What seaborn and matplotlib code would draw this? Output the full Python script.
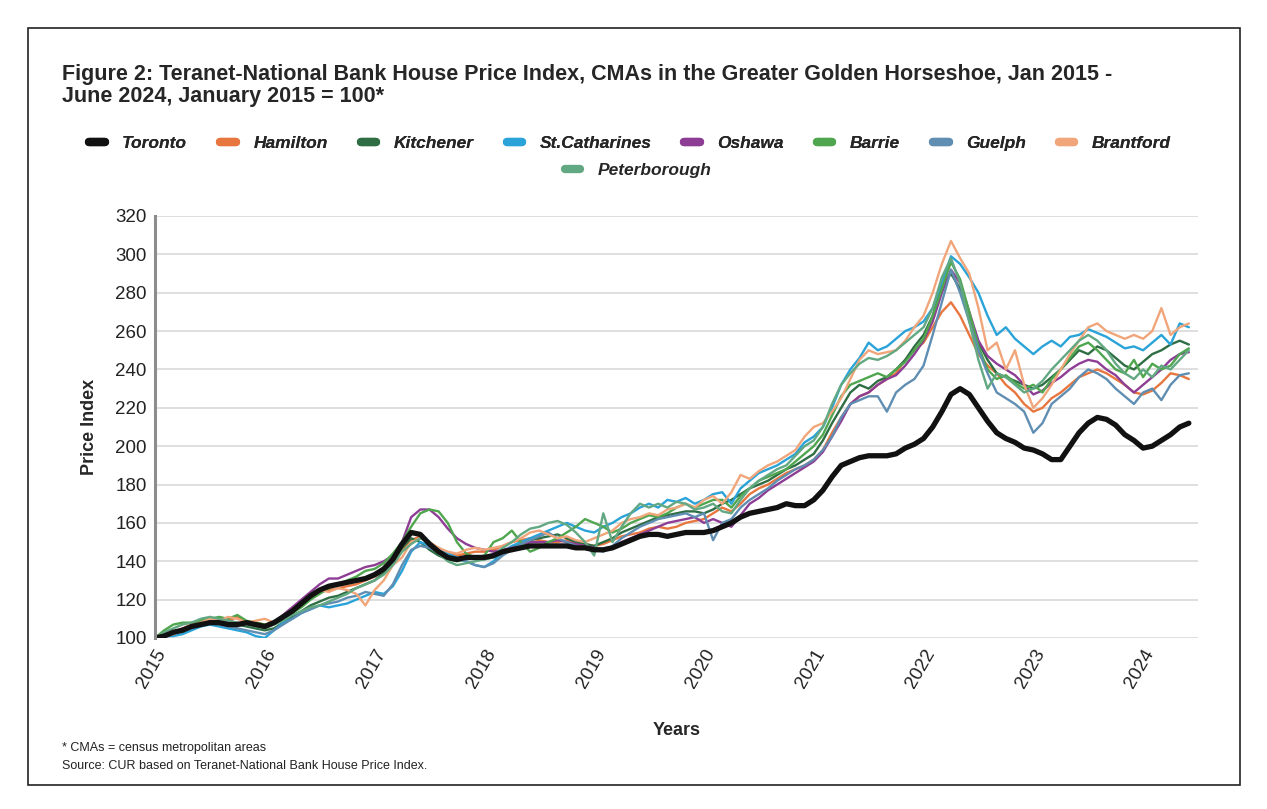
import numpy as np
import pandas as pd
import seaborn as sns
import matplotlib.pyplot as plt
from matplotlib.lines import Line2D
from matplotlib.patches import Rectangle

years = ["2015", "2016", "2017", "2018", "2019", "2020", "2021", "2022", "2023", "2024"]

toronto = [
    100, 101, 103, 104, 106, 107, 108, 108, 107, 107, 108, 107,
    106, 108, 111, 114, 118, 122, 125, 127, 128, 129, 130, 131,
    133, 136, 141, 149, 155, 154, 149, 145, 142, 141, 142, 142,
    142, 143, 145, 146, 147, 148, 148, 148, 148, 148, 147, 147,
    146, 146, 147, 149, 151, 153, 154, 154, 153, 154, 155, 155,
    155, 156, 158, 160, 163, 165, 166, 167, 168, 170, 169, 169,
    172, 177, 184, 190, 192, 194, 195, 195, 195, 196, 199, 201,
    204, 210, 218, 227, 230, 227, 220, 213, 207, 204, 202, 199,
    198, 196, 193, 193, 200, 207, 212, 215, 214, 211, 206, 203,
    199, 200, 203, 206, 210, 212,
]
hamilton = [
    100, 102, 103, 105, 107, 109, 110, 108, 109, 111, 108, 108,
    107, 108, 110, 114, 118, 121, 124, 125, 126, 127, 128, 130,
    132, 135, 140, 146, 151, 153, 150, 146, 144, 143, 144, 145,
    145, 146, 148, 150, 151, 152, 151, 150, 150, 151, 150, 149,
    148, 149, 151, 153, 154, 155, 157, 158, 157, 158, 160, 161,
    162, 165, 168, 166, 170, 175, 178, 180, 183, 186, 188, 190,
    193, 198, 207, 215, 222, 226, 228, 232, 235, 238, 245, 250,
    254, 262, 270, 275, 268, 258, 248, 242, 238, 232, 228, 222,
    218, 220, 225, 228, 232, 236, 238, 240, 238, 235, 232, 228,
    227, 229, 233, 238, 237, 235,
]
kitchener = [
    100, 101, 102, 104, 106, 107, 109, 110, 108, 107, 106, 105,
    104, 105, 108, 111, 114, 117, 119, 121, 122, 124, 126, 128,
    130, 134, 140, 147, 152, 150, 146, 143, 141, 140, 141, 142,
    141, 142, 144, 147, 149, 151, 152, 153, 154, 152, 150, 149,
    148, 150, 152, 155, 157, 159, 161, 163, 164, 165, 166, 166,
    165, 167, 170, 172, 175, 178, 180, 182, 185, 188, 190, 193,
    196, 203, 212, 220, 228, 232, 230, 234, 236, 240, 245, 252,
    258, 268, 283, 290, 282, 268, 254, 245, 238, 236, 234, 232,
    230, 232, 236, 240, 245, 250, 248, 252, 250, 246, 242, 240,
    244, 248, 250, 253, 255, 253,
]
st_catharines = [
    100, 101, 101, 102, 104, 106, 107, 106, 105, 104, 103, 101,
    100, 104, 108, 110, 113, 115, 117, 116, 117, 118, 120, 122,
    124, 123, 127, 135, 145, 150, 148, 147, 144, 142, 140, 138,
    137, 140, 145, 148, 150, 152, 154, 156, 158, 160, 158, 156,
    155, 158, 160, 163, 165, 168, 170, 168, 172, 171, 173, 170,
    172, 175, 176, 170, 178, 182, 186, 188, 190, 193, 196, 202,
    205, 210, 220, 232, 240, 246, 254, 250, 252, 256, 260, 262,
    265, 272, 285, 299, 295, 288, 280, 268, 258, 262, 256, 252,
    248, 252, 255, 252, 257, 258, 261, 259, 257, 254, 251, 252,
    250, 254, 258, 253, 264, 262,
]
oshawa = [
    100, 102, 103, 105, 106, 108, 109, 110, 109, 108, 107, 107,
    106, 108, 112, 116, 120, 124, 128, 131, 131, 133, 135, 137,
    138, 140, 143, 150, 163, 167, 167, 163, 157, 152, 149, 147,
    146, 145, 146, 147, 148, 150, 150, 150, 151, 150, 149, 148,
    147, 146, 147, 150, 152, 154, 156, 158, 160, 161, 162, 163,
    160, 162, 160, 158, 164, 170, 173, 177, 180, 183, 186, 189,
    192, 197, 205, 213, 222, 226, 228, 232, 235, 237, 242, 248,
    255, 265, 280, 292, 285, 270, 255, 247, 243, 240, 237, 232,
    227, 229, 233, 236, 240, 243, 245, 244, 240, 237, 232, 228,
    232, 236, 240, 245, 248, 249,
]
barrie = [
    100, 104, 107, 108, 108, 109, 110, 111, 110, 112, 109, 108,
    107, 108, 110, 113, 116, 120, 123, 126, 128, 130, 132, 135,
    136, 139, 144, 150, 158, 165, 167, 166, 160, 150, 144, 142,
    143, 150, 152, 156, 150, 145, 147, 150, 152, 155, 158, 162,
    160, 158, 155, 157, 160, 162, 164, 163, 165, 168, 170, 168,
    170, 172, 172, 168, 174, 178, 182, 184, 186, 188, 192, 196,
    200, 206, 216, 226, 232, 234, 236, 238, 236, 240, 244, 250,
    256, 268, 282, 296, 287, 270, 252, 240, 235, 237, 233, 230,
    232, 228, 235, 240, 246, 252, 254, 250, 245, 240, 238, 245,
    236, 243, 240, 242, 248, 251,
]
guelph = [
    100, 102, 103, 104, 106, 107, 108, 107, 106, 105, 104, 103,
    102, 104, 107, 110, 113, 115, 117, 118, 119, 121, 122, 124,
    123, 122, 128, 138, 146, 148, 147, 145, 143, 141, 140, 138,
    137, 139, 143, 146, 149, 151, 153, 155, 152, 150, 148, 147,
    146, 145, 148, 152, 155, 158, 160, 162, 163, 164, 165, 163,
    165, 151, 160, 162, 168, 172, 175, 178, 182, 185, 188, 190,
    193, 198, 205, 215, 222, 224, 226, 226, 218, 228, 232, 235,
    242, 258, 275, 292, 280, 265, 250, 238, 228, 225, 222, 218,
    207, 212, 222, 226, 230, 236, 240, 238, 235, 230, 226, 222,
    228, 230, 224, 232, 237, 238,
]
brantford = [
    100, 101, 102, 104, 106, 108, 110, 109, 111, 110, 108, 109,
    110, 108, 110, 114, 118, 122, 125, 124, 126, 125, 123, 117,
    125, 130, 138, 142, 150, 152, 150, 147, 145, 144, 146, 147,
    146, 147, 148, 150, 152, 155, 156, 154, 152, 153, 151, 150,
    152, 154, 156, 160, 162, 163, 165, 164, 167, 168, 170, 168,
    172, 174, 170, 176, 185, 183, 187, 190, 192, 195, 198, 205,
    210, 212, 218, 225, 235, 245, 250, 248, 249, 250, 255, 262,
    268, 280, 295, 307, 298, 290, 272, 250, 254, 240, 250, 232,
    220, 225, 232, 240, 248, 255, 262, 264, 260, 258, 256, 258,
    256, 260, 272, 258, 262, 264,
]
peterborough = [
    100, 103, 105, 107, 108, 110, 111, 110, 109, 108, 107, 106,
    105, 107, 109, 112, 114, 116, 117, 119, 121, 123, 126, 128,
    130, 133, 138, 145, 149, 152, 150, 144, 140, 138, 139, 140,
    141, 143, 147, 150, 154, 157, 158, 160, 161, 159, 155, 150,
    143, 165, 150, 158, 165, 170, 168, 170, 168, 171, 170, 167,
    168, 170, 166, 165, 172, 178, 182, 185, 188, 190, 195, 200,
    203, 210, 222, 232, 238, 243, 246, 245, 247, 250, 254, 258,
    262, 272, 288, 298, 285, 265, 245, 230, 238, 236, 232, 228,
    230, 234, 240, 245, 250, 255, 258, 255, 250, 243, 238, 235,
    240, 236, 242, 240, 245, 250,
]

cities = ["Toronto", "Hamilton", "Kitchener", "St.Catharines", "Oshawa",
          "Barrie", "Guelph", "Brantford", "Peterborough"]
series = [toronto, hamilton, kitchener, st_catharines, oshawa,
          barrie, guelph, brantford, peterborough]
colors = ["#111111", "#E8773F", "#2F6E44", "#2AA3D8", "#8E3D95",
          "#4FA64F", "#5F8EB2", "#F1A57A", "#62A882"]
palette = dict(zip(cities, colors))

rows = []
for city, vals in zip(cities, series):
    for i, v in enumerate(vals):
        rows.append({"month": i, "city": city, "index": v})
df = pd.DataFrame(rows)

sns.set_style("white")
plt.rcParams["font.family"] = ["Liberation Sans", "DejaVu Sans"]

fig = plt.figure(figsize=(12.67, 8.09), dpi=100)
ax = fig.add_axes([155 / 1267, 1 - 638 / 809, (1198 - 155) / 1267, (638 - 216) / 809])

others = df[df["city"] != "Toronto"]
sns.lineplot(data=others, x="month", y="index", hue="city", palette=palette,
             linewidth=1.7, legend=False, ax=ax)
sns.lineplot(data=df[df["city"] == "Toronto"], x="month", y="index", hue="city",
             palette=palette, linewidth=3.8, legend=False, ax=ax)

ax.set_ylim(100, 320)
ax.set_xlim(0, 114)
ax.set_yticks(range(100, 321, 20))
ax.set_xticks(range(0, 120, 12))
ax.set_xticklabels(years, rotation=60, ha="right", rotation_mode="anchor")
ax.tick_params(axis="both", labelsize=13.5, colors="#222222", length=0, pad=6)
ax.yaxis.grid(True, color="#d9d9d9", linewidth=1.2)
ax.set_axisbelow(True)
for side in ["top", "right", "bottom"]:
    ax.spines[side].set_visible(False)
ax.spines["left"].set_color("#8c8c8c")
ax.spines["left"].set_linewidth(2.2)

ax.set_xlabel("Years", fontsize=13, fontweight="bold", labelpad=22)
ax.set_ylabel("Price Index", fontsize=13, fontweight="bold", labelpad=12)

fig.text(62 / 1267, 1 - 64 / 809,
         "Figure 2: Teranet-National Bank House Price Index, CMAs in the Greater Golden Horseshoe, Jan 2015 -\n"
         "June 2024, January 2015 = 100*",
         fontsize=15.5, fontweight="bold", va="top", ha="left", linespacing=1.05)

handles = [Line2D([0], [0], color=palette[c], linewidth=6) for c in cities]
leg1 = fig.legend(handles[:8], cities[:8], loc="center", ncol=8,
                  bbox_to_anchor=(630 / 1267, 1 - 143 / 809), frameon=False,
                  prop={"weight": "bold", "style": "italic", "size": 12.5},
                  handlelength=0.9, columnspacing=1.9, handletextpad=1.0)
fig.add_artist(leg1)
fig.legend(handles[8:], cities[8:], loc="center", ncol=1,
           bbox_to_anchor=(638 / 1267, 1 - 170 / 809), frameon=False,
           prop={"weight": "bold", "style": "italic", "size": 12.5},
           handlelength=0.9, handletextpad=1.0)

fig.text(62 / 1267, 1 - 748 / 809, "* CMAs = census metropolitan areas",
         fontsize=9, va="center", ha="left", color="#222222")
fig.text(62 / 1267, 1 - 766 / 809, "Source: CUR based on Teranet-National Bank House Price Index.",
         fontsize=9, va="center", ha="left", color="#222222")

fig.add_artist(Rectangle((28 / 1267, 1 - 785 / 809), (1240 - 28) / 1267, (785 - 28) / 809,
                         transform=fig.transFigure, fill=False, edgecolor="#222222", linewidth=1.2))

fig.savefig("out.png", dpi=100)
